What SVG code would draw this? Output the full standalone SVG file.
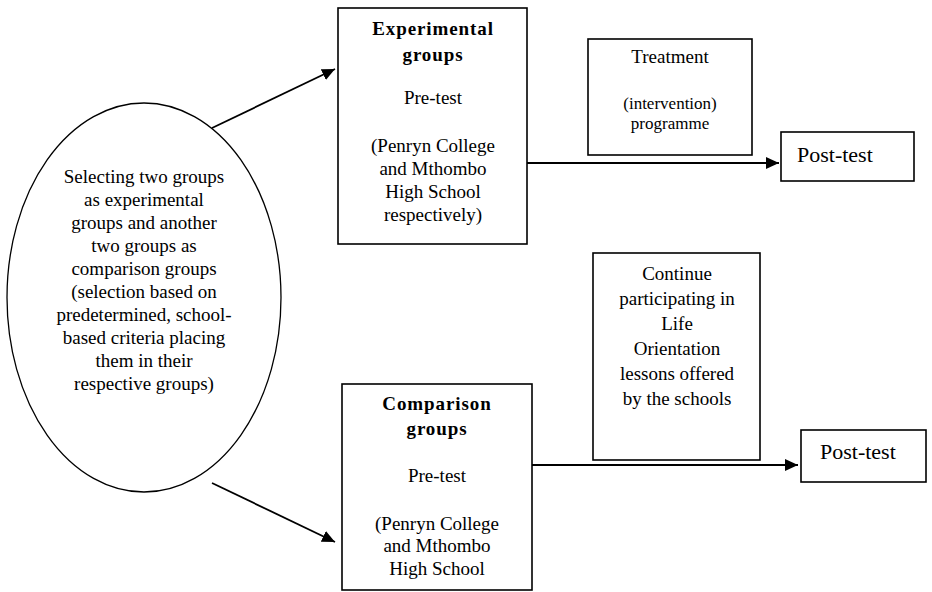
<svg xmlns="http://www.w3.org/2000/svg" width="932" height="592" viewBox="0 0 932 592">
<style>
.box{fill:#fff;stroke:#000;stroke-width:1.6}
.ell{fill:#fff;stroke:#000;stroke-width:1.3}
text{font-family:"Liberation Serif","Times New Roman",serif;font-size:19px;fill:#000}
.c{text-anchor:middle}
.b{font-weight:bold;letter-spacing:0.9px}
.pt{font-size:22px}
.sm{font-size:17px}
.edge{stroke:#000;stroke-width:1.8;fill:none;marker-end:url(#arr)}
</style>
<defs>
<marker id="arr" markerUnits="userSpaceOnUse" markerWidth="13" markerHeight="12" refX="13" refY="6" orient="auto">
<path d="M0,0 L13,6 L0,12 z" fill="#000"/>
</marker>
</defs>
<g id="selection">
<ellipse class="ell" cx="144" cy="297.5" rx="137" ry="194.5"/>
<text class="c" x="144" y="183">Selecting two groups</text>
<text class="c" x="144" y="206">as experimental</text>
<text class="c" x="144" y="229">groups and another</text>
<text class="c" x="144" y="252">two groups as</text>
<text class="c" x="144" y="275">comparison  groups</text>
<text class="c" x="144" y="298">(selection based on</text>
<text class="c" x="144" y="321">predetermined,  school-</text>
<text class="c" x="144" y="344">based criteria  placing</text>
<text class="c" x="144" y="367">them in their</text>
<text class="c" x="144" y="390">respective groups)</text>
</g>
<g id="experimental">
<rect class="box" x="338" y="8" width="189" height="236"/>
<text class="c b" x="433" y="35">Experimental</text>
<text class="c b" x="433" y="61">groups</text>
<text class="c" x="433" y="104">Pre-test</text>
<text class="c" x="433" y="152">(Penryn College</text>
<text class="c" x="433" y="175">and Mthombo</text>
<text class="c" x="433" y="198">High School</text>
<text class="c" x="433" y="221">respectively)</text>
</g>
<g id="comparison">
<rect class="box" x="342" y="384" width="190" height="206"/>
<text class="c b" x="437" y="410">Comparison</text>
<text class="c b" x="437" y="435">groups</text>
<text class="c" x="437" y="482">Pre-test</text>
<text class="c" x="437" y="530">(Penryn College</text>
<text class="c" x="437" y="552">and Mthombo</text>
<text class="c" x="437" y="575">High School</text>
</g>
<g id="treatment">
<rect class="box" x="588" y="39" width="164" height="116"/>
<text class="c" x="670" y="63">Treatment</text>
<text class="c sm" x="670" y="109">(intervention)</text>
<text class="c sm" x="670" y="129">programme</text>
</g>
<g id="continue">
<rect class="box" x="593" y="253" width="167" height="207"/>
<text class="c" x="677" y="280">Continue</text>
<text class="c" x="677" y="305">participating in</text>
<text class="c" x="677" y="330">Life</text>
<text class="c" x="677" y="355">Orientation</text>
<text class="c" x="677" y="380">lessons offered</text>
<text class="c" x="677" y="405">by the schools</text>
</g>
<g id="posttest1">
<rect class="box" x="781" y="132" width="133" height="49"/>
<text class="pt" x="797" y="162">Post-test</text>
</g>
<g id="posttest2">
<rect class="box" x="801" y="430" width="125" height="52"/>
<text class="pt" x="820" y="459">Post-test</text>
</g>
<g id="connectors">
<line class="edge" x1="212" y1="128" x2="335" y2="69"/>
<line class="edge" x1="212" y1="483" x2="335" y2="542"/>
<line class="edge" x1="527" y1="163" x2="779" y2="163"/>
<line class="edge" x1="532" y1="465" x2="798" y2="465"/>
</g>
</svg>
